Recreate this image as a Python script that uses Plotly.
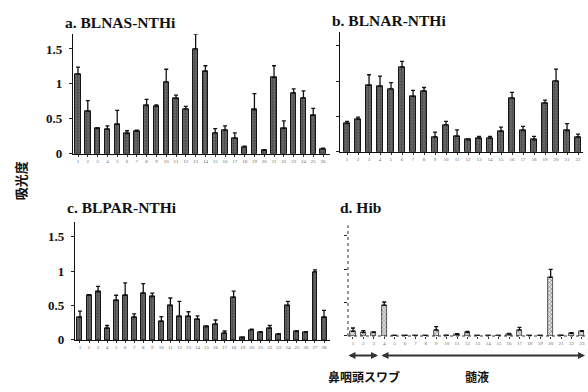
import plotly.graph_objects as go

# ---------------- data ----------------
a_vals = [1.14, 0.61, 0.36, 0.35, 0.42, 0.29, 0.32, 0.69, 0.68, 1.03, 0.79, 0.64, 1.50,
          1.18, 0.30, 0.34, 0.22, 0.10, 0.63, 0.05, 1.09, 0.36, 0.87, 0.80, 0.55, 0.07]
a_err = [0.10, 0.15, 0.01, 0.05, 0.20, 0.04, 0.02, 0.09, 0.02, 0.18, 0.05, 0.04, 0.21,
         0.08, 0.06, 0.06, 0.08, 0.01, 0.23, 0.01, 0.17, 0.11, 0.06, 0.10, 0.10, 0.01]

b_vals = [0.40, 0.46, 0.94, 0.93, 0.89, 1.20, 0.78, 0.86, 0.21, 0.38, 0.22, 0.17, 0.19,
          0.19, 0.29, 0.76, 0.30, 0.17, 0.69, 1.00, 0.30, 0.21]
b_err = [0.03, 0.03, 0.15, 0.14, 0.09, 0.08, 0.09, 0.05, 0.07, 0.05, 0.09, 0.01, 0.03,
         0.03, 0.06, 0.08, 0.06, 0.05, 0.04, 0.17, 0.10, 0.04]

c_vals = [0.33, 0.65, 0.70, 0.17, 0.575, 0.65, 0.33, 0.68, 0.63, 0.27, 0.50, 0.34, 0.34,
          0.30, 0.19, 0.23, 0.10, 0.62, 0.03, 0.145, 0.11, 0.17, 0.08, 0.50, 0.12, 0.11,
          0.99, 0.33]
c_err = [0.09, 0.01, 0.08, 0.04, 0.075, 0.18, 0.05, 0.14, 0.05, 0.07, 0.11, 0.22, 0.07,
         0.05, 0.01, 0.06, 0.03, 0.09, 0.005, 0.01, 0.01, 0.04, 0.01, 0.06, 0.01, 0.01,
         0.03, 0.10]

d_vals = [0.07, 0.05, 0.05, 0.46, 0.005, 0.005, 0.005, 0.005, 0.09, 0.01, 0.025, 0.05,
          0.003, 0.003, 0.003, 0.03, 0.09, 0.005, 0.005, 0.88, 0.01, 0.04, 0.07]
d_err = [0.05, 0.03, 0.01, 0.05, 0, 0, 0, 0, 0.05, 0, 0.01, 0.02, 0, 0, 0, 0.01, 0.04,
         0, 0, 0.12, 0, 0.01, 0.01]

panel_titles = ["a. BLNAS-NTHi", "b. BLNAR-NTHi", "c. BLPAR-NTHi", "d. Hib"]
y_tick_vals = [0, 0.5, 1, 1.5]
y_tick_text = ["0", "0.5", "1", "1.5"]
y_axis_title = "吸光度"
group_labels = ["鼻咽頭スワブ", "髄液"]

# ---------------- figure ----------------
W, H = 588, 392
serif = "Liberation Serif"
cjk = "Noto Sans CJK JP"

fig = go.Figure()

dark_marker = dict(color="#6e6e6e", line=dict(color="#151515", width=1),
                   pattern=dict(shape=".", fgcolor="#1e1e1e", size=3, solidity=0.45))
hatch_marker = dict(color="#e2e2e2", line=dict(color="#333333", width=0.8),
                    pattern=dict(shape="x", fgcolor="#333333", size=3, solidity=0.45))

panels = [
    (a_vals, a_err, "x", "y", dark_marker, 0.55),
    (b_vals, b_err, "x2", "y2", dark_marker, 0.55),
    (c_vals, c_err, "x3", "y3", dark_marker, 0.55),
    (d_vals, d_err, "x4", "y4", hatch_marker, 0.5),
]
for vals, err, xa, ya, mk, w in panels:
    n = len(vals)
    fig.add_trace(go.Bar(
        x=list(range(1, n + 1)), y=vals, xaxis=xa, yaxis=ya, width=w,
        marker=mk, showlegend=False,
        error_y=dict(type="data", symmetric=False, array=err, arrayminus=[0] * n,
                     color="#111111", thickness=1.3, width=2),
    ))

def px_x(p):
    return p / W

def px_y(p):
    return 1 - p / H

def xaxis(d0, d1, n, r0, r1, anchor, solid=True):
    return dict(domain=[px_x(d0), px_x(d1)], range=[r0, r1], anchor=anchor,
                tickmode="array", tickvals=list(range(1, n + 1)),
                ticktext=[str(i) for i in range(1, n + 1)],
                tickfont=dict(size=5, color="#666666", family=serif),
                ticks="outside", ticklen=2, tickcolor="#333", tickwidth=0.6,
                showline=solid, linecolor="#111111", linewidth=1,
                showgrid=False, zeroline=False, fixedrange=True)

def yaxis(d0, d1, top, anchor, labels=True, solid=True):
    return dict(domain=[px_y(d0), px_y(d1)], range=[0, top], anchor=anchor,
                tickmode="array", tickvals=y_tick_vals, ticktext=y_tick_text,
                showticklabels=labels,
                tickfont=dict(size=13, color="#111111", family=serif, weight="bold"),
                ticks="outside", ticklen=3, tickcolor="#222", tickwidth=1,
                ticklabelstandoff=4,
                showline=solid, linecolor="#111111", linewidth=1.2,
                showgrid=False, zeroline=False, fixedrange=True)

fig.update_layout(
    width=W, height=H, margin=dict(l=0, r=0, t=0, b=0),
    paper_bgcolor="white", plot_bgcolor="white", bargap=0,
    xaxis=xaxis(73, 330, 26, 0.49, 26.71, "y"),
    yaxis=yaxis(157, 35, 1.71, "x"),
    xaxis2=xaxis(340, 583, 22, 0.36, 22.45, "y2"),
    yaxis2=yaxis(155, 33, 1.69, "x2", labels=False),
    xaxis3=xaxis(75, 330, 28, 0.45, 28.66, "y3"),
    yaxis3=yaxis(347, 227, 1.71, "x3"),
    xaxis4=xaxis(348, 585, 23, 0.52, 23.3, "y4", solid=False),
    yaxis4=yaxis(343, 230, 1.66, "x4", labels=False, solid=False),
)

# dotted axes for panel d
fig.add_shape(type="line", xref="x4 domain", yref="y4 domain", x0=0, x1=0, y0=0, y1=1,
              line=dict(color="#333333", width=1, dash="dot"))
fig.add_shape(type="line", xref="x4 domain", yref="y4 domain", x0=0, x1=1, y0=0, y1=0,
              line=dict(color="#333333", width=1, dash="dot"))

# panel titles
title_pos = [(63, 23), (330, 21), (65, 212), (338, 212)]
for t, (tx, ty) in zip(panel_titles, title_pos):
    fig.add_annotation(text=t, xref="paper", yref="paper", x=px_x(tx), y=px_y(ty),
                       xanchor="left", yanchor="middle", showarrow=False,
                       font=dict(family=serif, size=15.5, color="#111111", weight="bold"))

# y axis title
fig.add_annotation(text=y_axis_title, xref="paper", yref="paper", x=px_x(20), y=px_y(185),
                   textangle=-90, showarrow=False, xanchor="center", yanchor="middle",
                   font=dict(family=cjk, size=13, color="#111111", weight="bold"))

# group arrows under panel d (paper position of head, pixel offset of tail)
for x0, x1 in [(347, 378), (380, 585)]:
    fig.add_annotation(xref="paper", yref="paper", x=px_x(x1), y=px_y(363),
                       ax=x0 - x1, ay=0, axref="pixel", ayref="pixel",
                       text="", showarrow=True,
                       arrowside="end+start", arrowhead=2, arrowsize=0.7,
                       arrowwidth=2, arrowcolor="#333333")

# group labels
for lbl, cx in zip(group_labels, [364, 477]):
    fig.add_annotation(text=lbl, xref="paper", yref="paper", x=px_x(cx), y=px_y(384),
                       showarrow=False, xanchor="center", yanchor="middle",
                       font=dict(family=cjk, size=12, color="#111111", weight="bold"))

fig.write_html("out.html", config={"displayModeBar": False},
               post_script="document.body.style.margin='0';document.body.style.overflow='hidden';")
